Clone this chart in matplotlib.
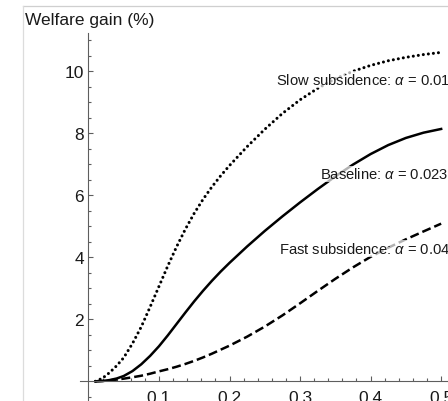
import matplotlib
matplotlib.use("Agg")
import matplotlib.pyplot as plt
from matplotlib.lines import Line2D
import numpy as np

plt.rcParams['font.family'] = ['Liberation Sans', 'DejaVu Sans']
plt.rcParams['mathtext.fontset'] = 'custom'
plt.rcParams['mathtext.it'] = 'Liberation Sans:italic'
plt.rcParams['mathtext.rm'] = 'Liberation Sans'

# ---- data ----
x_vals = [0.01, 0.02, 0.03, 0.04, 0.05, 0.0625, 0.075, 0.0875, 0.10, 0.1125,
          0.125, 0.1375, 0.15, 0.1625, 0.175, 0.1875, 0.20, 0.225, 0.25, 0.275,
          0.30, 0.325, 0.35, 0.375, 0.40, 0.425, 0.45, 0.475, 0.50]
slow_vals = [0.0, 0.1, 0.28, 0.5, 0.76, 1.22, 1.76, 2.4, 3.06, 3.72,
             4.34, 4.91, 5.42, 5.87, 6.27, 6.63, 6.96, 7.57, 8.13, 8.64,
             9.08, 9.45, 9.76, 10.0, 10.19, 10.34, 10.45, 10.54, 10.61]
base_vals = [0.0, 0.01, 0.04, 0.09, 0.17, 0.33, 0.55, 0.82, 1.13, 1.48,
             1.85, 2.22, 2.58, 2.92, 3.24, 3.54, 3.82, 4.35, 4.85, 5.32,
             5.77, 6.2, 6.61, 6.99, 7.33, 7.62, 7.85, 8.02, 8.14]
fast_vals = [0.0, 0.01, 0.03, 0.055, 0.085, 0.13, 0.18, 0.245, 0.32, 0.39,
             0.47, 0.56, 0.66, 0.77, 0.89, 1.02, 1.15, 1.44, 1.765, 2.125,
             2.515, 2.915, 3.305, 3.675, 4.015, 4.31, 4.58, 4.835, 5.085]

labels = ["Slow subsidence: $\\alpha$ = 0.01",
          "Baseline: $\\alpha$ = 0.023",
          "Fast subsidence: $\\alpha$ = 0.04"]
label_pos = [(0.266, 9.73), (0.3282, 6.69), (0.2705, 4.29)]

x_major = [0.1, 0.2, 0.3, 0.4, 0.5]
x_major_labels = ["0.1", "0.2", "0.3", "0.4", "0.5"]
y_major = [2, 4, 6, 8, 10]
y_major_labels = ["2", "4", "6", "8", "10"]
title = "Welfare gain (%)"

# ---- figure ----
W, H = 448, 402
fig = plt.figure(figsize=(W / 100, H / 100), dpi=100)
ax = fig.add_axes([0, 0, 1, 1])
ax.set_facecolor('none')

x0px, xscale = 88.4, 705.5
y0px, yscale = 382.3, 31.0
ax.set_xlim((0 - x0px) / xscale, (W - x0px) / xscale)
ax.set_ylim((y0px - H) / yscale, y0px / yscale)

lw = 1.8
ax.plot(x_vals, slow_vals, color='black', lw=2.2, linestyle=(0, (0.01, 1.65)),
        dash_capstyle='round', solid_joinstyle='round', zorder=2)
ax.plot(x_vals, base_vals, color='black', lw=lw, linestyle='-',
        solid_joinstyle='round', zorder=2)
ax.plot(x_vals, fast_vals, color='black', lw=lw, linestyle=(0, (3.6, 1.6)),
        dash_capstyle='butt', zorder=2)

for txt, (tx, ty) in zip(labels, label_pos):
    ax.text(tx, ty, txt, fontsize=10.6, color='#1a1a1a', ha='left', va='center',
            zorder=3, bbox=dict(facecolor='white', edgecolor='none', alpha=0.7, pad=0.5))

axis_col = '#5e5e5e'
for s in ['top', 'right']:
    ax.spines[s].set_visible(False)
ax.spines['left'].set_position(('data', 0))
ax.spines['bottom'].set_position(('data', 0))
ax.spines['left'].set_bounds(ax.get_ylim()[0], 11.24)
ax.spines['bottom'].set_bounds(-0.012, ax.get_xlim()[1])
for s in ['left', 'bottom']:
    ax.spines[s].set_color(axis_col)
    ax.spines[s].set_linewidth(0.8)

ax.set_xticks(x_major)
ax.set_xticklabels(x_major_labels)
ax.set_xticks([v for v in np.arange(0.02, 0.51, 0.02) if all(abs(v - m) > 1e-6 for m in x_major)], minor=True)
ax.set_yticks(y_major)
ax.set_yticklabels(y_major_labels)
ax.set_yticks([v for v in np.arange(-0.5, 11.01, 0.5) if all(abs(v - m) > 1e-6 for m in y_major) and abs(v) > 1e-6], minor=True)

ax.tick_params(axis='both', which='major', direction='in', length=3.8, width=0.8,
               color=axis_col, labelsize=12.5, labelcolor='#1a1a1a')
ax.tick_params(axis='both', which='minor', direction='in', length=2.3, width=0.8,
               color=axis_col)
ax.tick_params(axis='x', which='major', pad=6.0)
ax.tick_params(axis='y', which='major', pad=3.2)

# title text
fig.text(25 / W, 1 - 25.5 / H, title, fontsize=12.5, color='#1a1a1a', ha='left', va='baseline')

# screenshot frame lines
fig.add_artist(Line2D([23 / W, 1], [1 - 7 / H, 1 - 7 / H], color='#cfcfcf', lw=0.9))
fig.add_artist(Line2D([23 / W, 23 / W], [0, 1 - 7 / H], color='#dcdcdc', lw=0.9))

fig.savefig("out.png", dpi=100)
